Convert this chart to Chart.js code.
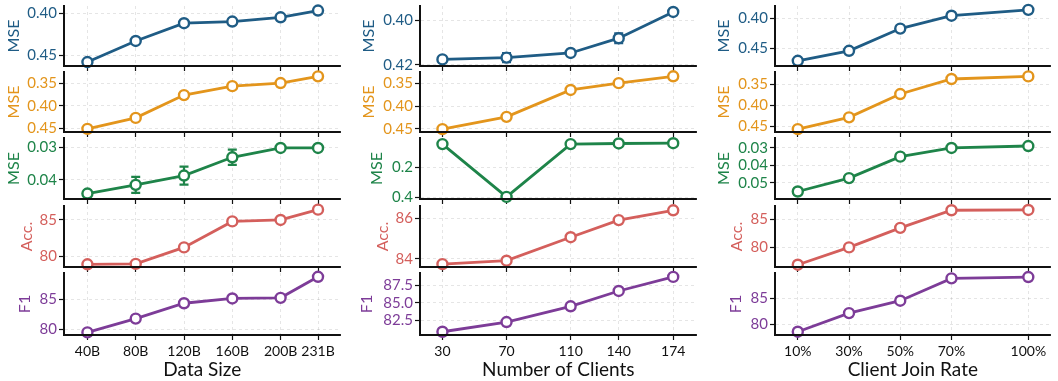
<!DOCTYPE html>
<html>
<head>
<meta charset="utf-8">
<script src="https://cdn.jsdelivr.net/npm/chart.js@4.4.1/dist/chart.umd.min.js"></script>
<style>
  html, body { margin: 0; padding: 0; background: #fff; }
  #wrap { position: relative; width: 1058px; height: 381px; overflow: hidden; }
  #wrap canvas { position: absolute; }
</style>
</head>
<body>
<div id="wrap"></div>
<script>
/* ============================
   X VALUES + TICK LABELS
   ============================ */

const sizeX = [40, 80, 120, 160, 200, 231];
const sizeLabels = ["40B", "80B", "120B", "160B", "200B", "231B"];

const clientX = [30, 70, 110, 140, 174];
const clientLabels = ["30", "70", "110", "140", "174"];

const rateX = [10, 30, 50, 70, 100];
const rateLabels = ["10%", "30%", "50%", "70%", "100%"];

/* ============================
   SERIES VALUES
   ============================ */

// Data Size column
const sizeMse1 = [0.458, 0.433, 0.412, 0.410, 0.405, 0.397];
const sizeMse2 = [0.4515, 0.427, 0.376, 0.356, 0.349, 0.334];
const sizeMse3 = [0.0443, 0.0416, 0.0387, 0.0330, 0.0301, 0.0301];
const sizeMse3Err = [0, 0.0025, 0.0028, 0.0024, 0, 0];
const sizeAcc = [78.95, 79.0, 81.25, 84.8, 85.0, 86.4];
const sizeF1 = [79.45, 81.75, 84.3, 85.1, 85.2, 88.7];

// Number of Clients column
const clientMse1 = [0.4176, 0.4168, 0.4147, 0.408, 0.3961];
const clientMse1Err = [0, 0.002, 0.0008, 0.0022, 0];
const clientMse2 = [0.4507, 0.4236, 0.3642, 0.3492, 0.3341];
const clientMse3 = [0.045, 0.397, 0.045, 0.041, 0.039];
const clientAcc = [83.74, 83.91, 85.06, 85.9, 86.38];
const clientF1 = [80.92, 82.3, 84.53, 86.7, 88.7];

// Client Join Rate column
const rateMse1 = [0.4702, 0.4537, 0.417, 0.3957, 0.3861];
const rateMse2 = [0.4568, 0.4289, 0.3736, 0.338, 0.3318];
const rateMse3 = [0.055, 0.0473, 0.035, 0.030, 0.0289];
const rateMse3Err = [0.0015, 0, 0, 0, 0];
const rateAcc = [76.95, 80.0, 83.45, 86.55, 86.6];
const rateF1 = [78.54, 82.15, 84.56, 88.9, 89.15];

/* ============================
   Y TICKS
   ============================ */

const ticksMse40 = [0.40, 0.45];
const ticksMse42 = [0.40, 0.42];
const ticksMse35 = [0.35, 0.40, 0.45];
const ticksMse3a = [0.03, 0.04];
const ticksMse3b = [0.2, 0.4];
const ticksMse3c = [0.03, 0.04, 0.05];
const ticks8085 = [80, 85];
const ticks8486 = [84, 86];
const ticksF1b = [82.5, 85.0, 87.5];

/* ============================
   STYLE + LAYOUT
   ============================ */

const colors = {
  blue: "#1f5c85",
  orange: "#e3951c",
  green: "#1e8449",
  red: "#d45f5c",
  purple: "#7d3c98"
};

const gridColor = "rgba(0,0,0,0.13)";
const yTitleSize = 16;
const rowTop = [5, 71, 137, 205, 272];
const rowBottom = [67, 133, 200, 268, 335];

const columns = [
  { canvasLeft: 0, plotLeft: 64, plotRight: 348, xMin: 20.6, xMax: 249.7, x: sizeX, labels: sizeLabels, title: "Data Size" },
  { canvasLeft: 355, plotLeft: 420, plotRight: 704, xMin: 16.0, xMax: 188.6, x: clientX, labels: clientLabels, title: "Number of Clients" },
  { canvasLeft: 706, plotLeft: 775, plotRight: 1058, xMin: 1.1, xMax: 108.7, x: rateX, labels: rateLabels, title: "Client Join Rate" }
];

const panels = [
  { col: 0, row: 0, y: sizeMse1, color: colors.blue, label: "MSE", ticks: ticksMse40, dec: 2, min: 0.3916, max: 0.4627, reverse: true, titleX: 14 },
  { col: 0, row: 1, y: sizeMse2, color: colors.orange, label: "MSE", ticks: ticksMse35, dec: 2, min: 0.3243, max: 0.4586, reverse: true, titleX: 14 },
  { col: 0, row: 2, y: sizeMse3, err: sizeMse3Err, color: colors.green, label: "MSE", ticks: ticksMse3a, dec: 2, min: 0.027, max: 0.046, reverse: true, titleX: 14 },
  { col: 0, row: 3, y: sizeAcc, color: colors.red, label: "Acc.", ticks: ticks8085, dec: 0, min: 78.58, max: 86.9, reverse: false, titleX: 27 },
  { col: 0, row: 4, y: sizeF1, color: colors.purple, label: "F1", ticks: ticks8085, dec: 0, min: 79.02, max: 89.33, reverse: false, titleX: 25 },

  { col: 1, row: 0, y: clientMse1, err: clientMse1Err, color: colors.blue, label: "MSE", ticks: ticksMse42, dec: 2, min: 0.3934, max: 0.4206, reverse: true, titleX: 369 },
  { col: 1, row: 1, y: clientMse2, color: colors.orange, label: "MSE", ticks: ticksMse35, dec: 2, min: 0.3246, max: 0.457, reverse: true, titleX: 369 },
  { col: 1, row: 2, y: clientMse3, color: colors.green, label: "MSE", ticks: ticksMse3b, dec: 1, min: 0.0045, max: 0.411, reverse: true, titleX: 377 },
  { col: 1, row: 3, y: clientAcc, color: colors.red, label: "Acc.", ticks: ticks8486, dec: 0, min: 83.6, max: 86.59, reverse: false, titleX: 383 },
  { col: 1, row: 4, y: clientF1, color: colors.purple, label: "F1", ticks: ticksF1b, dec: 1, min: 80.46, max: 89.25, reverse: false, titleX: 367 },

  { col: 2, row: 0, y: rateMse1, color: colors.blue, label: "MSE", ticks: ticksMse40, dec: 2, min: 0.3797, max: 0.4788, reverse: true, titleX: 724 },
  { col: 2, row: 1, y: rateMse2, color: colors.orange, label: "MSE", ticks: ticksMse35, dec: 2, min: 0.3214, max: 0.4636, reverse: true, titleX: 724 },
  { col: 2, row: 2, y: rateMse3, err: rateMse3Err, color: colors.green, label: "MSE", ticks: ticksMse3c, dec: 2, min: 0.0243, max: 0.0593, reverse: true, titleX: 724 },
  { col: 2, row: 3, y: rateAcc, color: colors.red, label: "Acc.", ticks: ticks8085, dec: 0, min: 76.55, max: 87.3, reverse: false, titleX: 737 },
  { col: 2, row: 4, y: rateF1, color: colors.purple, label: "F1", ticks: ticks8085, dec: 0, min: 77.9, max: 89.94, reverse: false, titleX: 736 }
];

Chart.defaults.font.family = "Lato, 'Noto Sans', sans-serif";
Chart.defaults.color = "#111";

/* ============================
   ERROR BAR PLUGIN
   ============================ */

const errorBars = {
  id: "errorBars",
  beforeDatasetsDraw(chart) {
    const ds = chart.data.datasets[0];
    if (!ds.errors) return;
    const ctx = chart.ctx;
    const xs = chart.scales.x;
    const ys = chart.scales.y;
    ctx.save();
    ctx.strokeStyle = ds.borderColor;
    ctx.lineWidth = 2.2;
    ds.data.forEach((p, i) => {
      const e = ds.errors[i];
      if (!e) return;
      const px = xs.getPixelForValue(p.x);
      const y1 = ys.getPixelForValue(p.y - e);
      const y2 = ys.getPixelForValue(p.y + e);
      ctx.beginPath();
      ctx.moveTo(px, y1); ctx.lineTo(px, y2);
      ctx.moveTo(px - 4.5, y1); ctx.lineTo(px + 4.5, y1);
      ctx.moveTo(px - 4.5, y2); ctx.lineTo(px + 4.5, y2);
      ctx.stroke();
    });
    ctx.restore();
  }
};

/* ============================
   BUILD ONE PANEL
   ============================ */

function gridOpts() {
  return { color: gridColor, lineWidth: 0.8, tickLength: 5, tickColor: "#111", tickWidth: 1.2, tickBorderDash: [] };
}

function borderOpts() {
  return { color: "#111", width: 2, dash: [3, 3], z: 1 };
}

function makePanel(p) {
  const col = columns[p.col];
  const last = p.row === 4;
  const padTop = 10;
  const xAxisH = last ? 381 - rowBottom[4] : 10;
  const top = rowTop[p.row] - padTop;
  const height = (rowBottom[p.row] - rowTop[p.row]) + padTop + xAxisH;
  const width = col.plotRight - col.canvasLeft;

  const canvas = document.createElement("canvas");
  canvas.width = width;
  canvas.height = height;
  canvas.style.left = col.canvasLeft + "px";
  canvas.style.top = top + "px";
  canvas.style.width = width + "px";
  canvas.style.height = height + "px";
  document.getElementById("wrap").appendChild(canvas);

  new Chart(canvas, {
    type: "line",
    data: {
      datasets: [{
        data: col.x.map((v, i) => ({ x: v, y: p.y[i] })),
        errors: p.err,
        borderColor: p.color,
        borderWidth: 2.8,
        pointRadius: 5,
        pointBorderWidth: 2.4,
        pointBackgroundColor: "#fff",
        pointBorderColor: p.color,
        clip: false
      }]
    },
    options: {
      responsive: false,
      animation: false,
      events: [],
      devicePixelRatio: 1,
      layout: { padding: { top: padTop, right: 0, bottom: 0, left: 0 } },
      plugins: { legend: { display: false }, tooltip: { enabled: false } },
      scales: {
        x: {
          type: "linear",
          min: col.xMin,
          max: col.xMax,
          afterBuildTicks: s => { s.ticks = col.x.map(v => ({ value: v })); },
          afterFit: s => { s.height = xAxisH; },
          ticks: {
            display: last,
            autoSkip: false,
            maxRotation: 0,
            padding: 3,
            color: "#111",
            font: { size: 14 },
            callback: (v, i) => col.labels[i]
          },
          grid: gridOpts(),
          border: borderOpts(),
          title: {
            display: last,
            text: col.title,
            color: "#111",
            font: { size: 19 },
            padding: { top: 0, bottom: 0 }
          }
        },
        y: {
          type: "linear",
          min: p.min,
          max: p.max,
          reverse: p.reverse,
          afterBuildTicks: s => { s.ticks = p.ticks.map(v => ({ value: v })); },
          afterFit: s => { s.width = col.plotLeft - col.canvasLeft; },
          ticks: {
            autoSkip: false,
            padding: 2,
            color: p.color,
            font: { size: 15 },
            callback: v => v.toFixed(p.dec)
          },
          grid: gridOpts(),
          border: borderOpts(),
          title: {
            display: true,
            text: p.label,
            color: p.color,
            font: { size: yTitleSize, lineHeight: 1.2 },
            padding: { top: p.titleX - col.canvasLeft - yTitleSize * 0.6, bottom: 0 }
          }
        }
      }
    },
    plugins: [errorBars]
  });
}

panels.forEach(makePanel);
</script>
</body>
</html>
